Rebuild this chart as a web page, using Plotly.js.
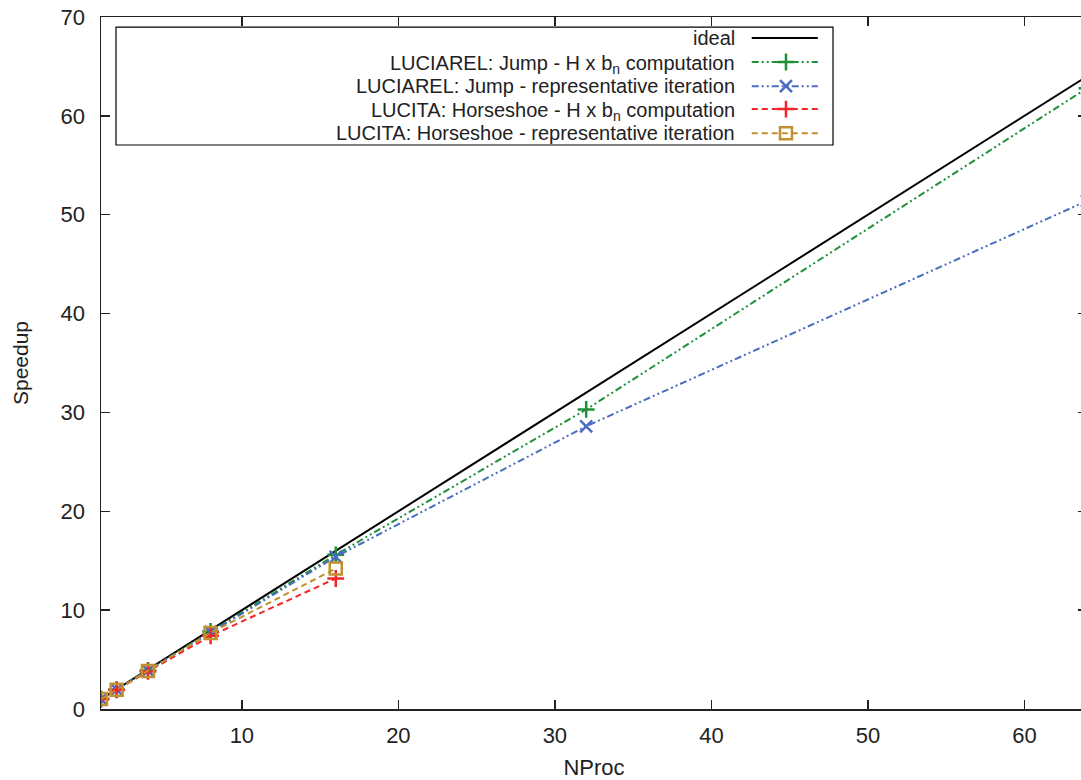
<!DOCTYPE html>
<html>
<head>
<meta charset="utf-8">
<script src="https://cdn.plot.ly/plotly-3.0.1.min.js"></script>
<style>html,body{margin:0;padding:0;overflow:hidden;background:#fff;}#chart{width:1090px;height:780px;}</style>
</head>
<body>
<div id="chart"></div>
<script>
var nproc = [1, 2, 4, 8, 16, 32, 64];
var nprocShort = [1, 2, 4, 8, 16];
var ideal = [1, 2, 4, 8, 16, 32, 64];
var luciarelHxbn = [1, 1.97, 3.9, 7.85, 15.6, 30.3, 62.8];
var luciarelIter = [1, 1.96, 3.88, 7.8, 15.4, 28.6, 51.4];
var lucitaHxbn = [1, 1.93, 3.8, 7.4, 13.2];
var lucitaIter = [1, 1.95, 3.85, 7.7, 14.2];
var seriesNames = [
  'ideal',
  'LUCIAREL: Jump - H x b<sub>n</sub> computation',
  'LUCIAREL: Jump - representative iteration',
  'LUCITA: Horseshoe - H x b<sub>n</sub> computation',
  'LUCITA: Horseshoe - representative iteration'
];
var colors = ['#000000', '#1f8f3a', '#4a6cc0', '#f0262a', '#c1902f'];
var dashes = ['solid', '7px,3px,2px,3px,2px,3px', '7px,3px,2px,3px,2px,3px', '6px,4px', '6px,4px'];
var symbols = [null, 'cross-thin-open', 'x-thin-open', 'cross-thin-open', 'square-open'];
var xs = [nproc, nproc, nproc, nprocShort, nprocShort];
var ys = [ideal, luciarelHxbn, luciarelIter, lucitaHxbn, lucitaIter];

var FONT = 'Liberation Sans, Arial, sans-serif';
var traces = [];
for (var i = 0; i < 5; i++) {
  var t = {
    x: xs[i], y: ys[i], type: 'scatter',
    mode: i === 0 ? 'lines' : 'lines+markers',
    name: seriesNames[i],
    line: {color: colors[i], width: 2, dash: dashes[i]},
    showlegend: false
  };
  if (symbols[i]) {
    t.marker = {symbol: symbols[i], size: 12, color: colors[i],
                line: {color: colors[i], width: 2.5}};
  }
  traces.push(t);
}

// custom legend (gnuplot style: text on the left, sample on the right)
var legRowY = [0.9697, 0.935, 0.900, 0.867, 0.832];
var subShift = [0, -0.003, 0, -0.003, 0];
var annotations = [];
var shapes = [{type: 'rect', xref: 'paper', yref: 'paper', x0: 0.0152, x1: 0.7424, y0: 0.815, y1: 0.9855,
               line: {color: '#000', width: 1.2}, fillcolor: 'rgba(0,0,0,0)', layer: 'above'}];
for (var j = 0; j < 5; j++) {
  annotations.push({xref: 'paper', yref: 'paper', x: 0.645, y: legRowY[j] + subShift[j], xanchor: 'right', yanchor: 'middle',
    text: seriesNames[j], showarrow: false, font: {family: FONT, size: 20, color: '#222'}});
  traces.push({x: [0.660, 0.6947, 0.727], y: [legRowY[j], legRowY[j], legRowY[j]], xaxis: 'x2', yaxis: 'y2',
    type: 'scatter', mode: 'lines', showlegend: false, hoverinfo: 'skip',
    line: {color: colors[j], width: 2, dash: dashes[j]}});
  if (symbols[j]) {
    traces.push({x: [0.6947], y: [legRowY[j]], xaxis: 'x2', yaxis: 'y2', type: 'scatter', mode: 'markers',
      showlegend: false, hoverinfo: 'skip',
      marker: {symbol: symbols[j], size: 12, color: colors[j], line: {color: colors[j], width: 2.5}}});
  }
}

var axisFont = {family: FONT, size: 22, color: '#222'};
var layout = {
  width: 1090, height: 780,
  margin: {l: 101, r: 3, t: 17, b: 71},
  paper_bgcolor: '#fff', plot_bgcolor: '#fff',
  showlegend: false,
  xaxis: {range: [1, 64], tickvals: [10, 20, 30, 40, 50, 60], ticks: 'inside', ticklen: 9, tickwidth: 1.5,
    tickcolor: '#222', mirror: 'ticks', showline: true, linecolor: '#222', linewidth: 1.5, showgrid: false,
    zeroline: false, tickfont: axisFont, ticklabelstandoff: 6,
    title: {text: 'NProc', font: {family: FONT, size: 22, color: '#222'}, standoff: 14}},
  yaxis: {range: [0, 70], dtick: 10, ticks: 'inside', ticklen: 9, tickwidth: 1.5,
    tickcolor: '#222', mirror: 'ticks', showline: true, linecolor: '#222', linewidth: 1.5, showgrid: false,
    zeroline: false, tickfont: axisFont, ticklabelstandoff: 10,
    title: {text: 'Speedup', font: {family: FONT, size: 21, color: '#222'}, standoff: 26}},
  xaxis2: {range: [0, 1], overlaying: 'x', visible: false, fixedrange: true},
  yaxis2: {range: [0, 1], overlaying: 'y', visible: false, fixedrange: true},
  shapes: shapes,
  annotations: annotations
};
Plotly.newPlot('chart', traces, layout, {displayModeBar: false, staticPlot: true});
</script>
</body>
</html>
